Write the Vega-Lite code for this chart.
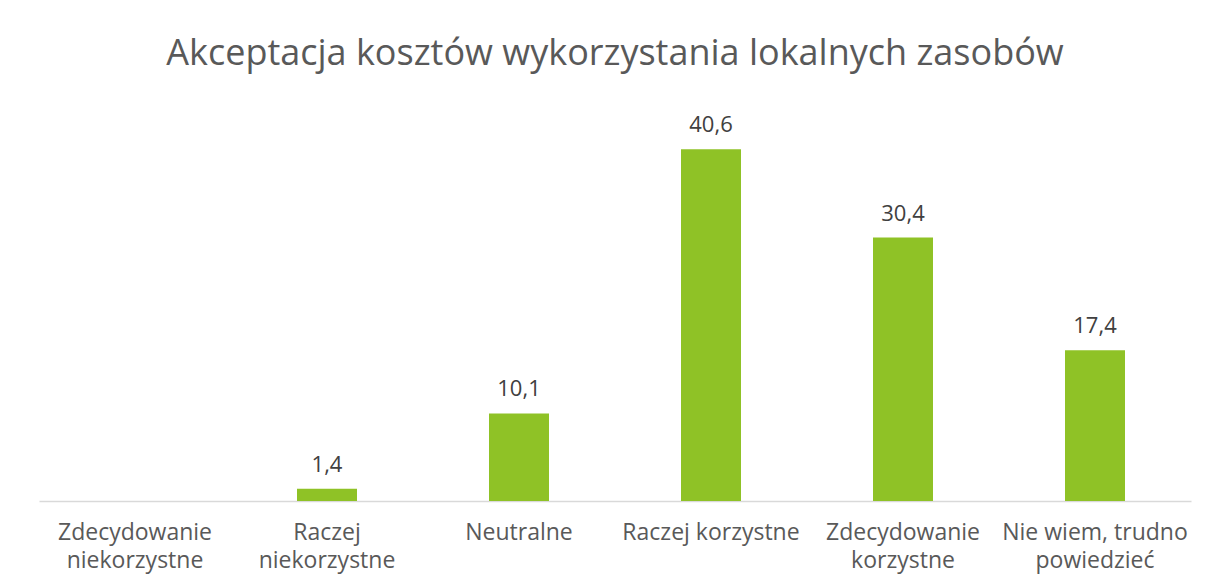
{
  "$schema": "https://vega.github.io/schema/vega-lite/v6.json",
  "width": 1152,
  "height": 390,
  "autosize": "none",
  "padding": {"left": 39, "top": 111, "right": 18, "bottom": 82},
  "background": "white",
  "config": {
    "view": {"stroke": null},
    "font": "Open Sans",
    "locale": {"number": {"decimal": ",", "thousands": " ", "grouping": [3], "currency": ["", " zł"]}}
  },
  "title": {
    "text": "Akceptacja kosztów wykorzystania lokalnych zasobów",
    "font": "Open Sans",
    "fontSize": 36,
    "fontWeight": "normal",
    "color": "#595959",
    "anchor": "middle",
    "baseline": "alphabetic",
    "offset": 10
  },
  "data": {
    "values": [
      {"kategoria": "Zdecydowanie|niekorzystne", "wartosc": null},
      {"kategoria": "Raczej|niekorzystne", "wartosc": 1.4},
      {"kategoria": "Neutralne", "wartosc": 10.1},
      {"kategoria": "Raczej korzystne", "wartosc": 40.6},
      {"kategoria": "Zdecydowanie|korzystne", "wartosc": 30.4},
      {"kategoria": "Nie wiem, trudno|powiedzieć", "wartosc": 17.4}
    ]
  },
  "encoding": {
    "x": {
      "field": "kategoria",
      "type": "nominal",
      "sort": null,
      "scale": {
        "domain": ["Zdecydowanie|niekorzystne", "Raczej|niekorzystne", "Neutralne", "Raczej korzystne", "Zdecydowanie|korzystne", "Nie wiem, trudno|powiedzieć"],
        "paddingInner": 0.6875,
        "paddingOuter": 0.34375
      },
      "axis": {
        "title": null,
        "labelAngle": 0,
        "labelExpr": "split(datum.value, '|')",
        "labelFont": "Open Sans",
        "labelFontSize": 23,
        "labelColor": "#595959",
        "labelBaseline": "alphabetic",
        "labelPadding": 38,
        "labelLineHeight": 28,
        "labelLimit": 0,
        "labelOverlap": false,
        "ticks": false,
        "domainColor": "#d9d9d9",
        "domainWidth": 1.5
      }
    },
    "y": {
      "field": "wartosc",
      "type": "quantitative",
      "scale": {"domain": [0, 45], "nice": false},
      "axis": null
    }
  },
  "layer": [
    {"mark": {"type": "bar", "color": "#8FC226"}},
    {
      "transform": [{"filter": "isValid(datum.wartosc)"}],
      "mark": {"type": "text", "baseline": "alphabetic", "dy": -17, "fontSize": 22, "color": "#404040", "font": "Open Sans"},
      "encoding": {"text": {"field": "wartosc", "type": "quantitative", "format": ".1f"}}
    }
  ]
}
